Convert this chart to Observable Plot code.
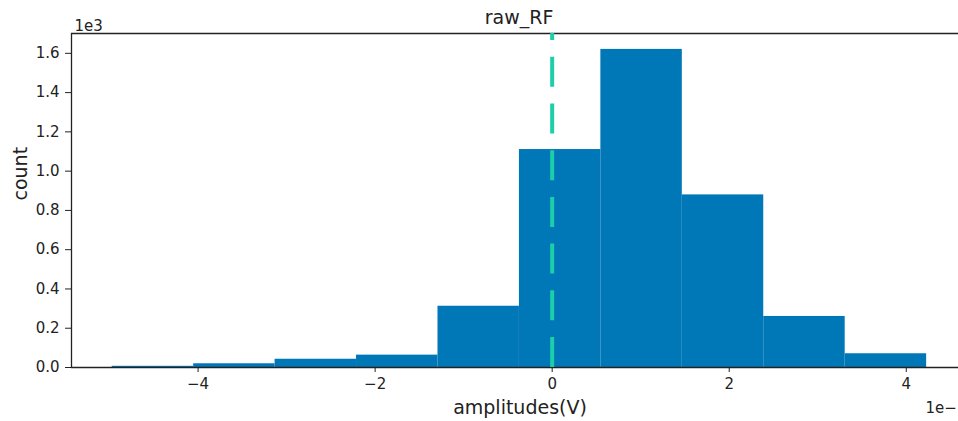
<!DOCTYPE html>
<html>
<head>
<meta charset="utf-8">
<script src="https://cdn.jsdelivr.net/npm/d3@7"></script>
<script src="https://cdn.jsdelivr.net/npm/@observablehq/plot@0.6"></script>
<style>
  html, body { margin: 0; padding: 0; background: #fff; overflow: hidden; }
  #chart svg { display: block; }
</style>
</head>
<body>
<div id="chart"></div>
<script>
// Histogram bin edges (amplitude, ×1e−4 V) and counts
const binEdges = [-4.97, -4.05, -3.13, -2.21, -1.29, -0.37, 0.55, 1.47, 2.39, 3.31, 4.23];
const counts = [6, 19, 42, 63, 312, 1110, 1620, 879, 260, 70];
const markerX = [0];
const xTicks = [-4, -2, 0, 2, 4];
const yTicks = [0, 200, 400, 600, 800, 1000, 1200, 1400, 1600];
const yTickLabels = ["0.0", "0.2", "0.4", "0.6", "0.8", "1.0", "1.2", "1.4", "1.6"];
const xDomain = [-5.43, 4.59];   // visible part of the axes (right spine lies just outside the picture)
const yDomain = [0, 1701];
const titleText = "raw_RF";
const xLabel = "amplitudes(V)";
const yLabel = "count";
const yOffsetText = "1e3";
const xOffsetText = "1e−";

const bins = counts.map((c, i) => ({x1: binEdges[i], x2: binEdges[i + 1], count: c}));

const font = "DejaVu Sans, sans-serif";
const ink = "#222";

const chart = Plot.plot({
  width: 958,
  height: 421,
  marginLeft: 71,
  marginRight: 0,
  marginTop: 33,
  marginBottom: 54,
  style: {fontFamily: font, color: ink, background: "#fff"},
  x: {domain: xDomain},
  y: {domain: yDomain},
  marks: [
    Plot.rectY(bins, {x1: "x1", x2: "x2", y: "count", fill: "#0077b6", inset: 0}),
    Plot.ruleY([yDomain[0]], {stroke: ink, strokeWidth: 1.3}),
    Plot.ruleY([yDomain[1]], {stroke: ink, strokeWidth: 1.3}),
    Plot.ruleX([xDomain[0]], {stroke: ink, strokeWidth: 1.3}),
    Plot.ruleX(markerX, {x: d => d, y1: yDomain[0], y2: yDomain[1], stroke: "#1ccfa8", strokeWidth: 4, strokeDasharray: "30,16.7"}),
    Plot.axisX({ticks: xTicks, tickSize: 5, tickPadding: 6, fontSize: 15, label: null, stroke: ink, fill: ink}),
    Plot.axisY({ticks: yTicks, tickSize: 6, tickPadding: 6, fontSize: 15, label: null, stroke: ink, fill: ink,
      tickFormat: d => yTickLabels[yTicks.indexOf(d)]}),
    Plot.text([titleText], {text: d => d, frameAnchor: "top", dx: 4, dy: -16, fontSize: 19, lineAnchor: "middle", fill: ink}),
    Plot.text([xLabel], {text: d => d, frameAnchor: "bottom", dx: 5, dy: 40, fontSize: 19, lineAnchor: "middle", fill: ink}),
    Plot.text([yLabel], {text: d => d, frameAnchor: "left", dx: -51, rotate: -90, fontSize: 19, lineAnchor: "middle", fill: ink}),
    Plot.text([yOffsetText], {text: d => d, frameAnchor: "top-left", dx: 3, dy: -7, textAnchor: "start", fontSize: 15, lineAnchor: "middle", fill: ink}),
    Plot.text([xOffsetText], {text: d => d, frameAnchor: "bottom-right", dx: -33, dy: 41, textAnchor: "start", fontSize: 15, lineAnchor: "middle", fill: ink})
  ]
});
document.getElementById("chart").appendChild(chart);
</script>
</body>
</html>
